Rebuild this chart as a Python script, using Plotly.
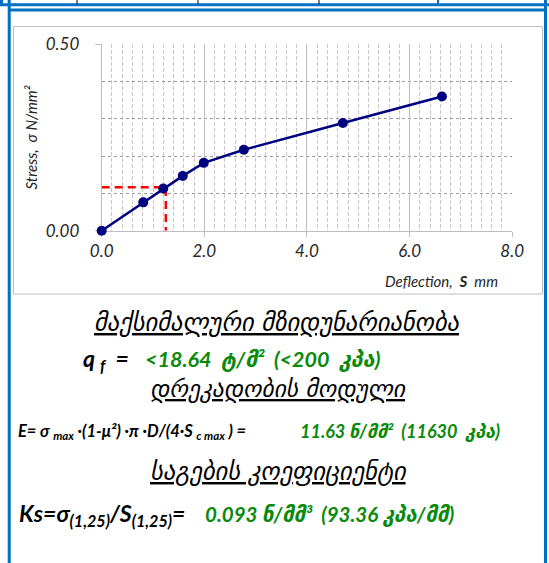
import plotly.graph_objects as go

# Plate load test: stress vs. deflection
deflection_mm = [0.0, 0.81, 1.20, 1.58, 1.99, 2.77, 4.70, 6.63]
stress_nmm2 = [0.0, 0.076, 0.113, 0.147, 0.182, 0.217, 0.289, 0.360]

# Subgrade coefficient read at S = 1.25 mm
ks_deflection = 1.25
ks_value = 0.09336  # N/mm3
ks_stress = ks_value * ks_deflection

x_range = [0.0, 8.0]
y_range = [0.0, 0.5]

W, H = 549, 563
BLUE = "#0070C0"
GREEN = "#0A8A0A"
NAVY = "#000080"
LATIN = "Lato, 'DejaVu Sans', sans-serif"
GEO = "'DejaVu Sans', sans-serif"


def px(x):
    return x / W


def py(y):
    return 1 - y / H


fig = go.Figure()

fig.add_trace(go.Scatter(
    x=[0, ks_deflection, ks_deflection],
    y=[ks_stress, ks_stress, 0],
    mode="lines",
    line=dict(color="#FF0000", width=2.5, dash="8px,5px"),
    hoverinfo="skip",
    showlegend=False,
))

fig.add_trace(go.Scatter(
    x=deflection_mm,
    y=stress_nmm2,
    mode="lines+markers",
    line=dict(color=NAVY, width=2.5),
    marker=dict(color=NAVY, size=10),
    cliponaxis=False,
    showlegend=False,
))

fig.update_xaxes(
    domain=[px(101.7), px(512.2)],
    range=x_range,
    automargin=False,
    layer="below traces",
    tickmode="linear", tick0=0, dtick=2, tickformat=".1f",
    ticks="outside", ticklen=5, tickcolor="#BFBFBF",
    tickfont=dict(family=LATIN, size=17, color="#262626", style="italic"),
    showline=True, linecolor="#BFBFBF", linewidth=1,
    showgrid=True, gridcolor="#BFBFBF", gridwidth=1,
    zeroline=False,
    minor=dict(dtick=0.2, showgrid=True,
               gridcolor="#C8C8C8", griddash="4px,2px", gridwidth=1),
    fixedrange=True,
)
fig.update_yaxes(
    domain=[py(230.7), py(44.3)],
    range=y_range,
    automargin=False,
    layer="below traces",
    tickmode="linear", tick0=0, dtick=0.5, tickformat=".2f",
    ticks="outside", ticklen=6, tickcolor="#BFBFBF",
    ticklabelstandoff=12,
    tickfont=dict(family=LATIN, size=17, color="#262626", style="italic"),
    showline=True, linecolor="#BFBFBF", linewidth=1,
    showgrid=True, gridcolor="#BFBFBF", gridwidth=1,
    zeroline=False,
    minor=dict(dtick=0.1, showgrid=True,
               gridcolor="#9A9A9A", griddash="dot", gridwidth=1),
    fixedrange=True,
)

shapes = []
# chart box
shapes.append(dict(type="rect", xref="paper", yref="paper",
                   x0=px(13.5), x1=px(542.5), y0=py(294), y1=py(26.5),
                   line=dict(color="#BFBFBF", width=1), layer="below"))


def hline(y, x0, x1, color=BLUE, w=3):
    shapes.append(dict(type="line", xref="paper", yref="paper",
                       x0=px(x0), x1=px(x1), y0=py(y), y1=py(y),
                       line=dict(color=color, width=w)))


def vline(x, y0, y1, color=BLUE, w=3):
    shapes.append(dict(type="line", xref="paper", yref="paper",
                       x0=px(x), x1=px(x), y0=py(y0), y1=py(y1),
                       line=dict(color=color, width=w)))


# table frame
hline(4.8, 0, 549)
hline(10, 8, 546)
vline(1.5, 0, 5)
vline(9.2, 0, 563)
vline(545.5, 0, 563)
for xv in (77, 198, 319):
    vline(xv, 0, 4, color="#000000", w=1)
vline(438, 0, 4, w=2)

annotations = []


def text(s, x, y, size, color="#000000", anchor="center", family=LATIN,
         bold=True, italic=True, underline=False):
    font = dict(family=family, size=size, color=color,
                weight="bold" if bold else "normal",
                style="italic" if italic else "normal")
    if underline:
        font["lineposition"] = "under"
    annotations.append(dict(text=s, x=px(x), y=py(y), xref="paper", yref="paper",
                            xanchor=anchor, yanchor="middle", showarrow=False,
                            font=font))


# axis titles
text("Deflection,  <b>S</b>  mm", 500, 280.5, 15, color="#262626",
     anchor="right", bold=False)
annotations.append(dict(text="Stress,  σ N/mm²", x=px(30), y=py(137.5),
                        xref="paper", yref="paper", showarrow=False, textangle=-90,
                        xanchor="center", yanchor="middle",
                        font=dict(family=LATIN, size=15, color="#262626",
                                  style="italic")))

# bearing capacity
text("მაქსიმალური მზიდუნარიანობა", 277, 322, 24.5, family=GEO,
     bold=False, underline=True)
text("q <sub>f</sub>  =", 81, 359, 23, anchor="left")
text("<18.64  ტ/მ²  (<200  კპა)", 143, 359, 21.5, color=GREEN, anchor="left")

# elastic modulus
text("დრეკადობის მოდული", 278, 389, 23.5, family=GEO, bold=False, underline=True)
text("E= σ <sub>max</sub> ·(1-μ²) ·π ·D/(4·S <sub>c max</sub> ) =", 16, 431, 16.5,
     anchor="left")
text("11.63 ნ/მმ²  (11630  კპა)", 298, 431, 18, color=GREEN, anchor="left")

# subgrade coefficient
text("საგების კოეფიციენტი", 278, 471, 24.5, family=GEO, bold=False, underline=True)
text("Ks=σ<sub>(1,25)</sub>/S<sub>(1,25)</sub>=", 17, 514, 23, anchor="left")
text(f"{ks_value:.3f} ნ/მმ³  ({ks_value * 1000:.2f} კპა/მმ)", 203, 514, 20.5,
     color=GREEN, anchor="left")

fig.update_layout(
    width=W, height=H,
    margin=dict(l=0, r=0, t=0, b=0, autoexpand=False),
    paper_bgcolor="white",
    plot_bgcolor="white",
    shapes=shapes,
    annotations=annotations,
    showlegend=False,
)

fig.write_html("out.html")
